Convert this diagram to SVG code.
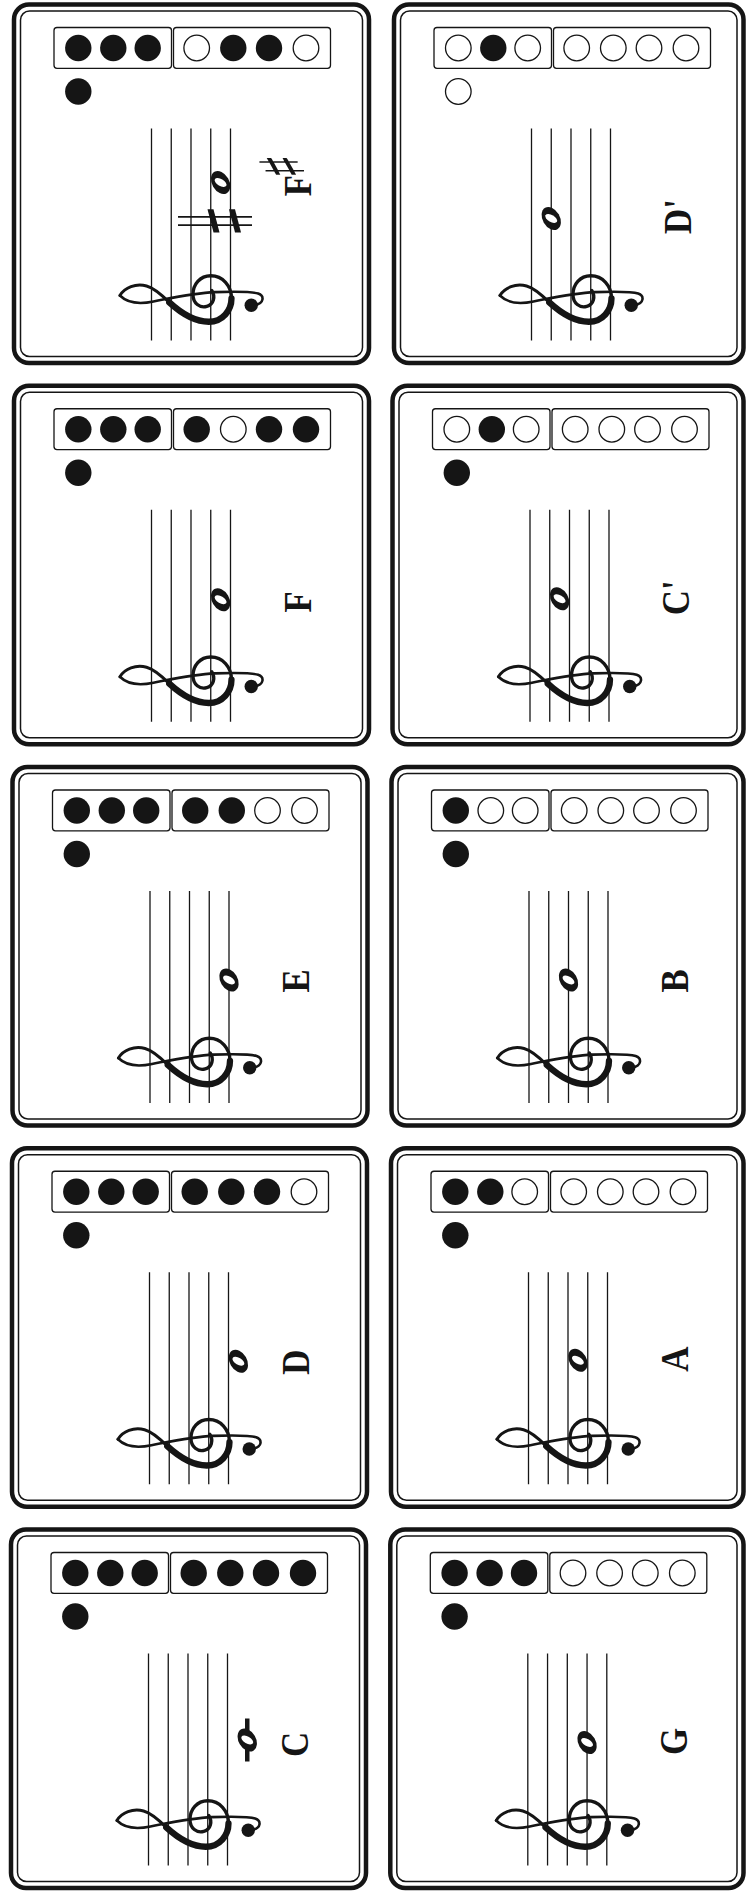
<svg xmlns="http://www.w3.org/2000/svg" width="747" height="1898" viewBox="0 0 747 1898">
<defs>
<style>
.outer{fill:#fff;stroke:#151515;stroke-width:4.5}
.inner{fill:none;stroke:#151515;stroke-width:1.5}
.box{fill:none;stroke:#151515;stroke-width:1.3}
.on{fill:#151515}
.off{fill:#fff;stroke:#151515;stroke-width:1.3}
.staff line{stroke:#151515;stroke-width:1.3}
.cl{fill:none;stroke:#151515;stroke-linecap:round;stroke-linejoin:round}
.lbl{font-family:"Liberation Serif","Times New Roman",serif;font-weight:bold;font-size:40px;fill:#151515}
.sh{font-family:"DejaVu Sans",sans-serif;font-weight:normal;font-size:61px;fill:#151515}
.ledger{stroke:#151515;stroke-width:4.5}
.acc{stroke:#151515;stroke-width:1.8}
</style>
<g id="clef">
<path class="cl" stroke-width="1.5" d="M -0.5,-46 C 3.5,-43.5 5.8,-38 4.3,-32.5 C 3.2,-28.5 -0.5,-24.5 -4,-21"/>
<path class="cl" stroke-width="3.2" d="M -4,-21 C -9.5,-15 -13.8,-8 -13.8,-1 C -13.8,6 -8,10.5 -2,10.5"/>
<path class="cl" stroke-width="1.7" d="M -2,10.5 C 4.5,10.5 9.5,6 9.5,0 C 9.5,-5.5 5,-9 0,-9 C -4.5,-9 -7,-5.5 -6,-2 C -5,1.5 -1,2.5 2,0.5"/>
<path class="cl" stroke-width="1.3" d="M -0.5,-46 C -4.5,-42 -5,-36 -3.5,-29 C -1.8,-20 0.8,-8 1.2,2 C 1.5,12 1.5,21 0.5,24 C -0.5,27 -4.5,27.5 -5.4,22"/>
<circle cx="-5.4" cy="20.5" r="3.4" fill="#151515"/>
</g>
<g id="staff" class="staff">
<line x1="-336" y1="137.5" x2="-124" y2="137.5"/>
<line x1="-336" y1="157.25" x2="-124" y2="157.25"/>
<line x1="-336" y1="177" x2="-124" y2="177"/>
<line x1="-336" y1="196.75" x2="-124" y2="196.75"/>
<line x1="-336" y1="216.5" x2="-124" y2="216.5"/>
<use href="#clef" transform="translate(-290,196.75) scale(1.975)"/>
</g>
<g id="note">
<ellipse rx="12.3" ry="8.6" transform="rotate(-30)" fill="#151515"/>
<ellipse rx="6.6" ry="3.4" transform="rotate(-60)" fill="#fff"/>
</g>
<g id="boxes">
<rect class="box" x="40" y="23" width="117.5" height="40.8" rx="3"/>
<rect class="box" x="159.5" y="23" width="157" height="40.8" rx="3"/>
</g>
</defs>

<!-- Row 1 left: F sharp -->
<g id="card-fsharp" transform="translate(14,4.5)">
<rect class="outer" x="0" y="0" width="355" height="358.5" rx="15"/>
<rect class="inner" x="6.5" y="6.5" width="342" height="345.5" rx="9"/>
<use href="#boxes"/>
<circle class="on" cx="64.3" cy="43.5" r="13.2"/><circle class="on" cx="99.3" cy="43.5" r="13.2"/><circle class="on" cx="133.7" cy="43.5" r="13.2"/>
<circle class="off" cx="182.7" cy="43.5" r="12.8"/><circle class="on" cx="219.3" cy="43.5" r="13.2"/><circle class="on" cx="255" cy="43.5" r="13.2"/><circle class="off" cx="292" cy="43.5" r="12.8"/>
<circle class="on" cx="64.3" cy="87" r="13.2"/>
<g transform="rotate(-90)">
<use href="#staff"/>
<use href="#note" x="-178" y="206.6"/>
<line class="acc" x1="-220.7" y1="164" x2="-220.7" y2="238"/>
<line class="acc" x1="-212.3" y1="164" x2="-212.3" y2="238"/>
<polygon fill="#151515" points="-228,199.5 -204.7,193.5 -204.7,199.5 -228,205.5"/>
<polygon fill="#151515" points="-228,221 -204.7,215 -204.7,221 -228,227"/>
<text class="lbl" text-anchor="middle" transform="translate(-181,296.5) scale(0.87,1)">F<tspan class="sh" x="22" y="-6.5">♯</tspan></text>
</g>
</g>

<!-- Row 1 right: D' -->
<g id="card-d2" transform="translate(394,4.5)">
<rect class="outer" x="0" y="0" width="349.5" height="358.5" rx="15"/>
<rect class="inner" x="6.5" y="6.5" width="336.5" height="345.5" rx="9"/>
<use href="#boxes"/>
<circle class="off" cx="64.3" cy="43.5" r="12.8"/><circle class="on" cx="99.3" cy="43.5" r="13.2"/><circle class="off" cx="133.7" cy="43.5" r="12.8"/>
<circle class="off" cx="182.7" cy="43.5" r="12.8"/><circle class="off" cx="219.3" cy="43.5" r="12.8"/><circle class="off" cx="255" cy="43.5" r="12.8"/><circle class="off" cx="292" cy="43.5" r="12.8"/>
<circle class="off" cx="64.3" cy="87" r="12.8"/>
<g transform="rotate(-90)">
<use href="#staff"/>
<use href="#note" x="-214" y="157.25"/>
<text class="lbl" transform="translate(-229.5,296.5) scale(0.87,1)">D'</text>
</g>
</g>

<!-- Row 2 left: F -->
<g id="card-f" transform="translate(14,385.75)">
<rect class="outer" x="0" y="0" width="355" height="358.5" rx="15"/>
<rect class="inner" x="6.5" y="6.5" width="342" height="345.5" rx="9"/>
<use href="#boxes"/>
<circle class="on" cx="64.3" cy="43.5" r="13.2"/><circle class="on" cx="99.3" cy="43.5" r="13.2"/><circle class="on" cx="133.7" cy="43.5" r="13.2"/>
<circle class="on" cx="182.7" cy="43.5" r="13.2"/><circle class="off" cx="219.3" cy="43.5" r="12.8"/><circle class="on" cx="255" cy="43.5" r="13.2"/><circle class="on" cx="292" cy="43.5" r="13.2"/>
<circle class="on" cx="64.3" cy="87" r="13.2"/>
<g transform="rotate(-90)">
<use href="#staff"/>
<use href="#note" x="-214" y="206.6"/>
<text class="lbl" text-anchor="middle" transform="translate(-216,296.5) scale(0.87,1)">F</text>
</g>
</g>

<!-- Row 2 right: C' -->
<g id="card-c2" transform="translate(392.5,385.75)">
<rect class="outer" x="0" y="0" width="351" height="358.5" rx="15"/>
<rect class="inner" x="6.5" y="6.5" width="338" height="345.5" rx="9"/>
<use href="#boxes"/>
<circle class="off" cx="64.3" cy="43.5" r="12.8"/><circle class="on" cx="99.3" cy="43.5" r="13.2"/><circle class="off" cx="133.7" cy="43.5" r="12.8"/>
<circle class="off" cx="182.7" cy="43.5" r="12.8"/><circle class="off" cx="219.3" cy="43.5" r="12.8"/><circle class="off" cx="255" cy="43.5" r="12.8"/><circle class="off" cx="292" cy="43.5" r="12.8"/>
<circle class="on" cx="64.3" cy="87" r="13.2"/>
<g transform="rotate(-90)">
<use href="#staff"/>
<use href="#note" x="-213" y="167.1"/>
<text class="lbl" transform="translate(-229.5,296.5) scale(0.87,1)">C'</text>
</g>
</g>

<!-- Row 3 left: E -->
<g id="card-e" transform="translate(12.5,767)">
<rect class="outer" x="0" y="0" width="355" height="358.5" rx="15"/>
<rect class="inner" x="6.5" y="6.5" width="342" height="345.5" rx="9"/>
<use href="#boxes"/>
<circle class="on" cx="64.3" cy="43.5" r="13.2"/><circle class="on" cx="99.3" cy="43.5" r="13.2"/><circle class="on" cx="133.7" cy="43.5" r="13.2"/>
<circle class="on" cx="182.7" cy="43.5" r="13.2"/><circle class="on" cx="219.3" cy="43.5" r="13.2"/><circle class="off" cx="255" cy="43.5" r="12.8"/><circle class="off" cx="292" cy="43.5" r="12.8"/>
<circle class="on" cx="64.3" cy="87" r="13.2"/>
<g transform="rotate(-90)">
<use href="#staff"/>
<use href="#note" x="-213" y="216.5"/>
<text class="lbl" text-anchor="middle" transform="translate(-214,296.5) scale(0.87,1)">E</text>
</g>
</g>

<!-- Row 3 right: B -->
<g id="card-b" transform="translate(391.5,767)">
<rect class="outer" x="0" y="0" width="352" height="358.5" rx="15"/>
<rect class="inner" x="6.5" y="6.5" width="339" height="345.5" rx="9"/>
<use href="#boxes"/>
<circle class="on" cx="64.3" cy="43.5" r="13.2"/><circle class="off" cx="99.3" cy="43.5" r="12.8"/><circle class="off" cx="133.7" cy="43.5" r="12.8"/>
<circle class="off" cx="182.7" cy="43.5" r="12.8"/><circle class="off" cx="219.3" cy="43.5" r="12.8"/><circle class="off" cx="255" cy="43.5" r="12.8"/><circle class="off" cx="292" cy="43.5" r="12.8"/>
<circle class="on" cx="64.3" cy="87" r="13.2"/>
<g transform="rotate(-90)">
<use href="#staff"/>
<use href="#note" x="-213" y="177"/>
<text class="lbl" text-anchor="middle" transform="translate(-214,296.5) scale(0.87,1)">B</text>
</g>
</g>

<!-- Row 4 left: D -->
<g id="card-d" transform="translate(12,1148.25)">
<rect class="outer" x="0" y="0" width="355" height="358.5" rx="15"/>
<rect class="inner" x="6.5" y="6.5" width="342" height="345.5" rx="9"/>
<use href="#boxes"/>
<circle class="on" cx="64.3" cy="43.5" r="13.2"/><circle class="on" cx="99.3" cy="43.5" r="13.2"/><circle class="on" cx="133.7" cy="43.5" r="13.2"/>
<circle class="on" cx="182.7" cy="43.5" r="13.2"/><circle class="on" cx="219.3" cy="43.5" r="13.2"/><circle class="on" cx="255" cy="43.5" r="13.2"/><circle class="off" cx="292" cy="43.5" r="12.8"/>
<circle class="on" cx="64.3" cy="87" r="13.2"/>
<g transform="rotate(-90)">
<use href="#staff"/>
<use href="#note" x="-213" y="226.4"/>
<text class="lbl" text-anchor="middle" transform="translate(-214,296.5) scale(0.87,1)">D</text>
</g>
</g>

<!-- Row 4 right: A -->
<g id="card-a" transform="translate(391,1148.25)">
<rect class="outer" x="0" y="0" width="352.5" height="358.5" rx="15"/>
<rect class="inner" x="6.5" y="6.5" width="339.5" height="345.5" rx="9"/>
<use href="#boxes"/>
<circle class="on" cx="64.3" cy="43.5" r="13.2"/><circle class="on" cx="99.3" cy="43.5" r="13.2"/><circle class="off" cx="133.7" cy="43.5" r="12.8"/>
<circle class="off" cx="182.7" cy="43.5" r="12.8"/><circle class="off" cx="219.3" cy="43.5" r="12.8"/><circle class="off" cx="255" cy="43.5" r="12.8"/><circle class="off" cx="292" cy="43.5" r="12.8"/>
<circle class="on" cx="64.3" cy="87" r="13.2"/>
<g transform="rotate(-90)">
<use href="#staff"/>
<use href="#note" x="-212" y="186.9"/>
<text class="lbl" text-anchor="middle" transform="translate(-211,296.5) scale(0.87,1)">A</text>
</g>
</g>

<!-- Row 5 left: C -->
<g id="card-c" transform="translate(11,1529.5)">
<rect class="outer" x="0" y="0" width="355" height="358.5" rx="15"/>
<rect class="inner" x="6.5" y="6.5" width="342" height="345.5" rx="9"/>
<use href="#boxes"/>
<circle class="on" cx="64.3" cy="43.5" r="13.2"/><circle class="on" cx="99.3" cy="43.5" r="13.2"/><circle class="on" cx="133.7" cy="43.5" r="13.2"/>
<circle class="on" cx="182.7" cy="43.5" r="13.2"/><circle class="on" cx="219.3" cy="43.5" r="13.2"/><circle class="on" cx="255" cy="43.5" r="13.2"/><circle class="on" cx="292" cy="43.5" r="13.2"/>
<circle class="on" cx="64.3" cy="87" r="13.2"/>
<g transform="rotate(-90)">
<use href="#staff"/>
<line class="ledger" x1="-232" y1="236.25" x2="-189" y2="236.25"/>
<use href="#note" x="-210.5" y="236.25"/>
<text class="lbl" text-anchor="middle" transform="translate(-215,296.5) scale(0.87,1)">C</text>
</g>
</g>

<!-- Row 5 right: G -->
<g id="card-g" transform="translate(390.3,1529.5)">
<rect class="outer" x="0" y="0" width="353.2" height="358.5" rx="15"/>
<rect class="inner" x="6.5" y="6.5" width="340.2" height="345.5" rx="9"/>
<use href="#boxes"/>
<circle class="on" cx="64.3" cy="43.5" r="13.2"/><circle class="on" cx="99.3" cy="43.5" r="13.2"/><circle class="on" cx="133.7" cy="43.5" r="13.2"/>
<circle class="off" cx="182.7" cy="43.5" r="12.8"/><circle class="off" cx="219.3" cy="43.5" r="12.8"/><circle class="off" cx="255" cy="43.5" r="12.8"/><circle class="off" cx="292" cy="43.5" r="12.8"/>
<circle class="on" cx="64.3" cy="87" r="13.2"/>
<g transform="rotate(-90)">
<use href="#staff"/>
<use href="#note" x="-213" y="196.75"/>
<text class="lbl" text-anchor="middle" transform="translate(-212,296.5) scale(0.87,1)">G</text>
</g>
</g>
</svg>
